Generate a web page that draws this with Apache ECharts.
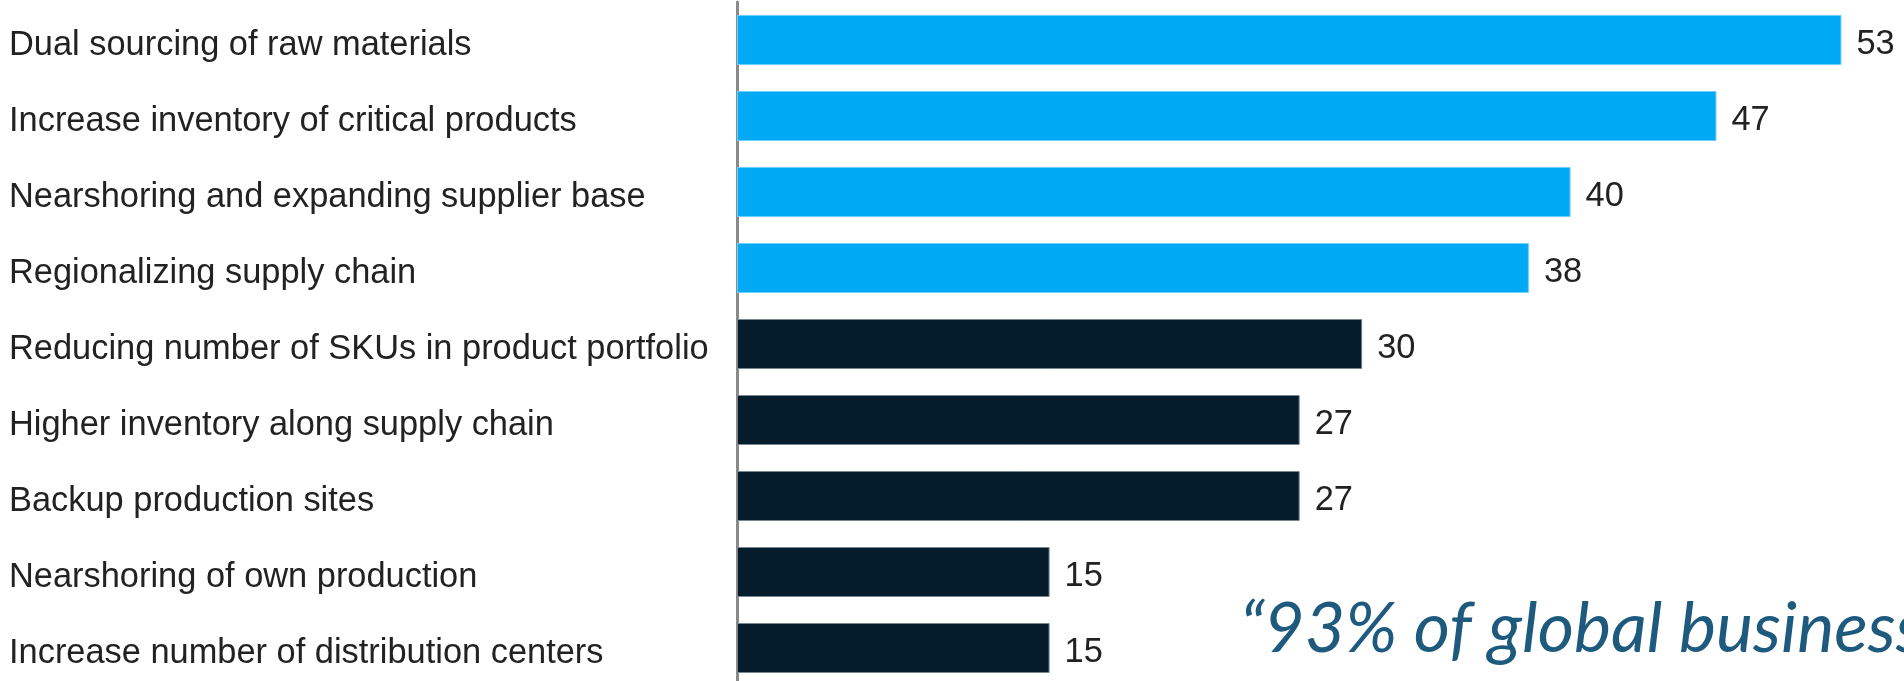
<!DOCTYPE html>
<html><head><meta charset="utf-8">
<script src="https://cdn.jsdelivr.net/npm/echarts@6/dist/echarts.min.js"></script>
<style>html,body{margin:0;padding:0;background:#fff;overflow:hidden}#c{width:1904px;height:681px}</style>
</head><body><div id="c"></div>
<script>
const categories = [
  'Dual sourcing of raw materials',
  'Increase inventory of critical products',
  'Nearshoring and expanding supplier base',
  'Regionalizing supply chain',
  'Reducing number of SKUs in product portfolio',
  'Higher inventory along supply chain',
  'Backup production sites',
  'Nearshoring of own production',
  'Increase number of distribution centers'
];
const values = [53, 47, 40, 38, 30, 27, 27, 15, 15];
const highlighted = [true, true, true, true, false, false, false, false, false];
const quoteText = '\u201C93% of global business';

const BLUE = '#00A9F4', BLUE_EDGE = '#6fd0fa';
const NAVY = '#051C2C', NAVY_EDGE = '#7a858e';
const LABEL_FONT = '"Liberation Sans", Arial, sans-serif';

const chart = echarts.init(document.getElementById('c'), null, {renderer: 'canvas'});
chart.setOption({
  backgroundColor: '#ffffff',
  animation: false,
  grid: {left: 737, right: 0, top: 2, height: 684, containLabel: false, outerBoundsMode: 'none'},
  xAxis: {type: 'value', min: 0, max: 56, show: false},
  yAxis: {
    type: 'category', inverse: true, data: categories, offset: 2,
    axisLine: {show: true, lineStyle: {color: '#8a8a8a', width: 3}},
    axisTick: {show: false},
    splitLine: {show: false},
    axisLabel: {
      align: 'left', margin: 726, color: '#222222',
      fontFamily: LABEL_FONT, fontSize: 34.4,
      formatter: v => '{l|' + v + '}',
      rich: {l: {fontFamily: LABEL_FONT, fontSize: 34.4, color: '#222222', padding: [11, 0, 0, 0]}}
    }
  },
  series: [{
    type: 'bar', barWidth: 50,
    data: values.map((v, i) => ({
      value: v,
      itemStyle: {
        color: highlighted[i] ? BLUE : NAVY,
        borderColor: highlighted[i] ? BLUE_EDGE : NAVY_EDGE,
        borderWidth: 1
      }
    })),
    label: {
      show: true, position: 'right', distance: 15, offset: [0, 5], color: '#222222',
      fontFamily: LABEL_FONT, fontSize: 34.4
    }
  }],
  graphic: [{
    type: 'text', left: 1240, top: 594, silent: true,
    style: {
      text: quoteText, fill: '#1E5A7E',
      font: 'italic 400 70px Lato, "Open Sans", sans-serif'
    }
  }]
});
</script></body></html>
